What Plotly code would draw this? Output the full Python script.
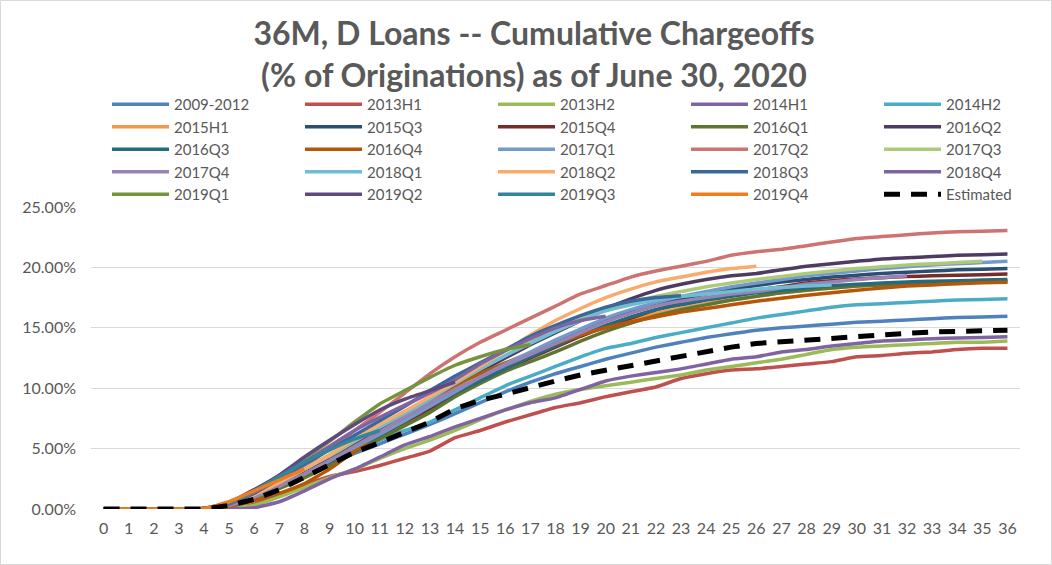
import plotly.graph_objects as go

months = list(range(37))

s_2009_2012 = [0, 0, 0, 0, 0.05, 0.5, 1.6, 2.2, 3.0, 3.8, 4.6, 5.4, 6.2, 7.0, 7.9, 8.8, 9.7, 10.5, 11.2, 11.8, 12.4, 12.9, 13.4, 13.8, 14.2, 14.5, 14.8, 15.0, 15.15, 15.3, 15.45, 15.55, 15.65, 15.75, 15.85, 15.9, 15.95]
s_2013H1 = [0, 0, 0, 0, 0, 0, 0.4, 1.2, 2.0, 2.7, 3.1, 3.6, 4.2, 4.8, 5.9, 6.5, 7.2, 7.8, 8.4, 8.8, 9.3, 9.7, 10.1, 10.8, 11.2, 11.5, 11.6, 11.8, 12.0, 12.2, 12.6, 12.7, 12.9, 13.0, 13.2, 13.3, 13.3]
s_2013H2 = [0, 0, 0, 0, 0, 0.1, 0.3, 1.0, 1.8, 2.6, 3.3, 4.2, 5.0, 5.7, 6.5, 7.4, 8.2, 8.9, 9.5, 9.9, 10.2, 10.5, 10.8, 11.1, 11.5, 11.8, 12.1, 12.4, 12.8, 13.2, 13.4, 13.5, 13.6, 13.7, 13.8, 13.8, 13.9]
s_2014H1 = [0, 0, 0, 0, 0, 0, 0.1, 0.6, 1.5, 2.5, 3.3, 4.3, 5.3, 6.0, 6.8, 7.5, 8.2, 8.8, 9.2, 9.9, 10.6, 11.0, 11.3, 11.6, 12.0, 12.4, 12.6, 13.0, 13.2, 13.5, 13.7, 13.9, 14.0, 14.1, 14.15, 14.2, 14.25]
s_2014H2 = [0, 0, 0, 0, 0.05, 0.3, 1.0, 1.8, 2.8, 3.8, 4.8, 5.7, 6.5, 7.2, 8.2, 9.2, 10.2, 11.0, 11.8, 12.6, 13.3, 13.7, 14.2, 14.6, 15.0, 15.4, 15.8, 16.1, 16.4, 16.7, 16.9, 17.0, 17.1, 17.2, 17.3, 17.35, 17.4]
s_2015H1 = [0, 0, 0, 0, 0.05, 0.3, 0.9, 1.7, 2.6, 3.6, 4.7, 5.8, 7.0, 8.2, 9.4, 10.6, 11.7, 12.7, 13.6, 14.4, 15.1, 15.7, 16.2, 16.6, 17.0, 17.3, 17.6, 17.9, 18.1, 18.3, 18.45, 18.6, 18.7, 18.75, 18.8, 18.85, 18.9]
s_2015Q3 = [0, 0, 0, 0, 0.05, 0.3, 1.0, 1.9, 2.9, 4.0, 5.1, 6.3, 7.5, 8.6, 9.7, 10.8, 11.9, 12.9, 13.9, 14.8, 15.6, 16.3, 16.9, 17.4, 17.8, 18.2, 18.5, 18.8, 19.0, 19.2, 19.35, 19.5, 19.6, 19.7, 19.8, 19.85, 19.9]
s_2015Q4 = [0, 0, 0, 0, 0.05, 0.3, 1.0, 1.9, 2.9, 3.9, 5.0, 6.1, 7.2, 8.3, 9.4, 10.5, 11.5, 12.5, 13.4, 14.3, 15.1, 15.8, 16.5, 17.0, 17.4, 17.8, 18.1, 18.4, 18.7, 18.9, 19.05, 19.15, 19.25, 19.3, 19.35, 19.4, 19.45]
s_2016Q1 = [0, 0, 0, 0, 0, 0.2, 0.8, 1.7, 2.6, 3.6, 4.7, 5.8, 6.9, 8.0, 9.3, 10.4, 11.4, 12.2, 13.0, 13.9, 14.7, 15.4, 16.0, 16.5, 16.9, 17.3, 17.6, 17.9, 18.1, 18.3, 18.45, 18.55, 18.6, 18.7, 18.75, 18.8, 18.85]
s_2016Q2 = [0, 0, 0, 0, 0.05, 0.3, 1.0, 2.0, 3.0, 4.2, 5.4, 6.6, 7.8, 9.0, 10.2, 11.4, 12.5, 13.6, 14.6, 15.6, 16.6, 17.4, 18.1, 18.6, 19.0, 19.3, 19.5, 19.8, 20.1, 20.3, 20.5, 20.7, 20.8, 20.9, 21.0, 21.05, 21.1]
s_2016Q3 = [0, 0, 0, 0, 0.05, 0.3, 1.0, 1.9, 2.9, 3.9, 5.0, 6.1, 7.3, 8.5, 9.6, 10.6, 11.6, 12.6, 13.5, 14.4, 15.2, 15.9, 16.5, 16.9, 17.3, 17.6, 17.9, 18.1, 18.3, 18.5, 18.6, 18.7, 18.8, 18.85, 18.9, 18.95, 19.0]
s_2016Q4 = [0, 0, 0, 0, 0, 0.2, 0.7, 1.3, 2.1, 3.3, 4.8, 6.3, 7.7, 9.0, 10.2, 11.2, 12.1, 12.9, 13.7, 14.4, 15.0, 15.5, 15.9, 16.3, 16.6, 16.9, 17.2, 17.45, 17.7, 17.9, 18.1, 18.3, 18.45, 18.55, 18.65, 18.72, 18.77]
s_2017Q1 = [0, 0, 0, 0, 0.05, 0.3, 1.0, 1.9, 2.9, 4.0, 5.1, 6.2, 7.3, 8.5, 9.7, 10.9, 12.0, 13.0, 14.0, 14.9, 15.8, 16.5, 17.1, 17.6, 18.0, 18.4, 18.7, 19.0, 19.3, 19.5, 19.7, 19.9, 20.05, 20.2, 20.3, 20.4, 20.5]
s_2017Q2 = [0, 0, 0, 0, 0.05, 0.4, 1.2, 2.3, 3.5, 5.0, 6.5, 8.0, 9.6, 11.2, 12.6, 13.8, 14.8, 15.8, 16.8, 17.8, 18.5, 19.2, 19.7, 20.1, 20.5, 21.0, 21.3, 21.5, 21.8, 22.1, 22.4, 22.55, 22.7, 22.85, 22.95, 23.0, 23.05]
s_2017Q3 = [0, 0, 0, 0, 0.05, 0.4, 1.2, 2.2, 3.3, 4.4, 5.6, 6.8, 8.0, 9.2, 10.4, 11.6, 12.7, 13.8, 14.8, 15.7, 16.5, 17.1, 17.6, 18.0, 18.4, 18.7, 19.0, 19.25, 19.5, 19.7, 19.9, 20.05, 20.2, 20.3, 20.4, 20.5]
s_2017Q4 = [0, 0, 0, 0, 0.05, 0.3, 1.0, 1.9, 2.9, 4.0, 5.2, 6.4, 7.6, 8.8, 9.9, 10.9, 11.9, 12.8, 13.7, 14.6, 15.5, 16.2, 16.8, 17.2, 17.5, 17.8, 18.0, 18.3, 18.6, 18.8, 19.0, 19.15, 19.3]
s_2018Q1 = [0, 0, 0, 0, 0.05, 0.4, 1.2, 2.2, 3.3, 4.5, 5.7, 6.8, 7.9, 9.1, 10.4, 11.6, 12.7, 13.7, 14.7, 15.6, 16.4, 16.9, 17.3, 17.6, 17.8, 18.0, 18.2, 18.35, 18.45, 18.55]
s_2018Q2 = [0, 0, 0, 0, 0.05, 0.4, 1.2, 2.2, 3.3, 4.5, 5.8, 7.0, 8.1, 9.3, 10.5, 11.8, 13.1, 14.4, 15.6, 16.6, 17.5, 18.2, 18.8, 19.2, 19.6, 19.9, 20.1]
s_2018Q3 = [0, 0, 0, 0, 0.05, 0.4, 1.3, 2.5, 3.7, 4.9, 6.1, 7.3, 8.5, 9.8, 11.0, 12.1, 13.2, 14.3, 15.2, 16.0, 16.7, 17.2, 17.5, 17.65]
s_2018Q4 = [0, 0, 0, 0, 0.05, 0.4, 1.4, 2.6, 3.9, 5.2, 6.5, 7.6, 8.6, 9.6, 10.7, 12.0, 13.1, 14.1, 15.0, 15.6, 15.95]
s_2019Q1 = [0, 0, 0, 0, 0.05, 0.5, 1.5, 2.8, 4.2, 5.6, 7.2, 8.7, 9.8, 10.9, 11.9, 12.6, 13.2, 13.6]
s_2019Q2 = [0, 0, 0, 0, 0.05, 0.5, 1.6, 2.8, 4.3, 5.7, 7.0, 8.2, 9.1, 9.8, 10.5]
s_2019Q3 = [0, 0, 0, 0, 0.05, 0.5, 1.5, 2.7, 3.9, 4.9, 5.8, 6.5]
s_2019Q4 = [0, 0, 0, 0, 0.05, 0.6, 1.5, 2.4, 3.3]
s_estimated = [0, 0, 0, 0, 0, 0.3, 0.8, 1.6, 2.6, 3.7, 4.7, 5.5, 6.3, 7.2, 8.3, 9.0, 9.5, 10.1, 10.6, 11.1, 11.5, 11.9, 12.3, 12.7, 13.1, 13.4, 13.7, 13.85, 14.0, 14.2, 14.3, 14.45, 14.55, 14.65, 14.7, 14.75, 14.8]

series_names = ["2009-2012", "2013H1", "2013H2", "2014H1", "2014H2",
                "2015H1", "2015Q3", "2015Q4", "2016Q1", "2016Q2",
                "2016Q3", "2016Q4", "2017Q1", "2017Q2", "2017Q3",
                "2017Q4", "2018Q1", "2018Q2", "2018Q3", "2018Q4",
                "2019Q1", "2019Q2", "2019Q3", "2019Q4"]
series_values = [s_2009_2012, s_2013H1, s_2013H2, s_2014H1, s_2014H2,
                 s_2015H1, s_2015Q3, s_2015Q4, s_2016Q1, s_2016Q2,
                 s_2016Q3, s_2016Q4, s_2017Q1, s_2017Q2, s_2017Q3,
                 s_2017Q4, s_2018Q1, s_2018Q2, s_2018Q3, s_2018Q4,
                 s_2019Q1, s_2019Q2, s_2019Q3, s_2019Q4]
series_colors = ["#4F81BD", "#C0504D", "#9BBB59", "#8064A2", "#4BACC6",
                 "#F79646", "#2C4D75", "#772C2A", "#5F7530", "#4D3B62",
                 "#276A7C", "#B65708", "#729ACA", "#CD7371", "#AFC97A",
                 "#9983B5", "#6FBDD1", "#F9AB6B", "#3A679C", "#7F64A2",
                 "#77933C", "#5E4A7E", "#31859C", "#F07C1C"]
estimated_name = "Estimated"

W, H = 1052, 565
ML, MR, MT, MB = 91, 32, 207, 56
PW = W - ML - MR
PH = H - MT - MB
TXT = "#595959"
FONT = "Lato"

fig = go.Figure()
legend_ids = ["legend", "legend2", "legend3", "legend4", "legend5"]

for i, (nm, vals, col) in enumerate(zip(series_names, series_values, series_colors)):
    fig.add_trace(go.Scatter(
        x=months[:len(vals)], y=[v / 100 for v in vals], name=nm, mode="lines",
        line=dict(color=col, width=3.5, shape="spline", smoothing=0.4),
        legend=legend_ids[i % 5], hoverinfo="skip"))

fig.add_trace(go.Scatter(
    x=months[:len(s_estimated)], y=[v / 100 for v in s_estimated], name=estimated_name,
    mode="lines", line=dict(color="#000000", width=5, dash="16px,11px"),
    legend=legend_ids[len(series_names) % 5], hoverinfo="skip"))

col_px = [107, 300, 493, 686, 879]
legend_top_px = 88
layout_legends = {}
for k, lid in enumerate(legend_ids):
    layout_legends[lid] = dict(
        x=(col_px[k] - ML) / PW, xanchor="left",
        y=(H - MB - legend_top_px) / PH, yanchor="top",
        orientation="v", bgcolor="rgba(0,0,0,0)",
        font=dict(family=FONT, size=15, color=TXT),
        itemwidth=57, tracegroupgap=0, traceorder="normal",
        itemclick=False, itemdoubleclick=False)

fig.update_layout(
    width=W, height=H,
    margin=dict(l=ML, r=MR, t=MT, b=MB, autoexpand=False),
    paper_bgcolor="white", plot_bgcolor="white",
    font=dict(family=FONT, color=TXT),
    title=dict(text="<b>36M, D Loans -- Cumulative Chargeoffs<br>(% of Originations) as of June 30, 2020</b>",
               x=534 / W, xanchor="center", y=1 - 45 / H, yanchor="top",
               font=dict(family=FONT, size=32, color=TXT)),
    showlegend=True,
    **layout_legends,
)
fig.update_xaxes(range=[-0.5, 36.5], tickmode="array", tickvals=months,
                 ticktext=[str(m) for m in months], showgrid=False, zeroline=False,
                 showline=False, ticks="", ticklabelstandoff=8,
                 tickfont=dict(family=FONT, size=16, color=TXT))
fig.update_yaxes(range=[0, 0.25], tickvals=[0, 0.05, 0.10, 0.15, 0.20, 0.25],
                 tickformat=".2%", showgrid=True, gridcolor="#D9D9D9", gridwidth=1,
                 zeroline=False, showline=False, ticks="", ticklabelstandoff=14,
                 tickfont=dict(family=FONT, size=16, color=TXT))
fig.add_shape(type="rect", xref="paper", yref="paper",
              x0=(0.5 - ML) / PW, x1=(W - 0.5 - ML) / PW,
              y0=-(MB - 0.5) / PH, y1=1 + (MT - 0.5) / PH,
              line=dict(color="#D9D9D9", width=1), fillcolor="rgba(0,0,0,0)", layer="below")

fig.write_html("out.html", config={"displayModeBar": False, "staticPlot": True},
               post_script="document.body.style.margin='0px';document.body.style.overflow='hidden';")
